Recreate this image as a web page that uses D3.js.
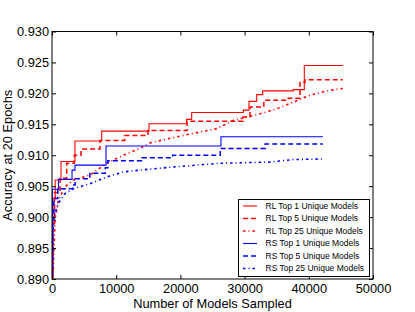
<!DOCTYPE html>
<html>
<head>
<meta charset="utf-8">
<script src="https://cdn.jsdelivr.net/npm/d3@7"></script>
<style>
  body { margin: 0; background: #fff; }
  text { font-family: "Liberation Sans", Arial, sans-serif; }
</style>
</head>
<body>
<div id="chart"></div>
<script>
// values: [models sampled, accuracy]
const rlTop1 = [[0, 0.8905], [150, 0.9030], [500, 0.9060], [1400, 0.9090], [3580, 0.9123], [7740, 0.9139],
  [15110, 0.9151], [20950, 0.9158], [21760, 0.9169], [29800, 0.9173], [30690, 0.9187], [31890, 0.9198],
  [32820, 0.9204], [37590, 0.9206], [39300, 0.9245], [45300, 0.9245]]
const rlTop5 = [[0, 0.8900], [150, 0.8990], [400, 0.9040], [1250, 0.9063], [2290, 0.9087], [3470, 0.9100],
  [4520, 0.9110], [7480, 0.9124], [11320, 0.9132], [14950, 0.9140], [21030, 0.9155], [29750, 0.9162],
  [30840, 0.9178], [33000, 0.9189], [36800, 0.9192], [38630, 0.9218], [39410, 0.9222], [45300, 0.9222]]
const rlTop25 = [[0, 0.8900], [200, 0.8915], [470, 0.8995], [980, 0.9027], [2020, 0.9049], [3320, 0.9060],
  [5920, 0.9068], [8520, 0.9087], [11100, 0.9100], [13710, 0.9111], [15260, 0.9120], [20400, 0.9132],
  [25650, 0.9143], [28190, 0.9156], [32400, 0.9167], [35000, 0.9175], [37590, 0.9186], [40190, 0.9197],
  [42790, 0.9204], [45300, 0.9208]]
const rsTop1 = [[0, 0.8905], [50, 0.9045], [1010, 0.9061], [3120, 0.9076], [3580, 0.9084], [8410, 0.9115],
  [26320, 0.9130], [42200, 0.9130]]
const rsTop5 = [[0, 0.8905], [100, 0.9000], [300, 0.9030], [900, 0.9046], [3200, 0.9052], [3600, 0.9062],
  [5900, 0.9071], [8300, 0.9080], [8700, 0.9091], [14000, 0.9096], [18800, 0.9100], [26200, 0.9111],
  [33200, 0.9118], [42200, 0.9118]]
const rsTop25 = [[0, 0.8902], [100, 0.8960], [250, 0.8990], [470, 0.9006], [980, 0.9022], [2020, 0.9038],
  [3320, 0.9046], [5920, 0.9054], [8520, 0.9065], [11100, 0.9073], [13710, 0.9076], [18850, 0.9081],
  [26170, 0.9087], [33960, 0.9089], [37540, 0.9093], [42200, 0.9094]]

const seriesNames = ["RL Top 1 Unique Models", "RL Top 5 Unique Models", "RL Top 25 Unique Models",
  "RS Top 1 Unique Models", "RS Top 5 Unique Models", "RS Top 25 Unique Models"]
const xTicks = [0, 10000, 20000, 30000, 40000, 50000]
const yTicks = [0.890, 0.895, 0.900, 0.905, 0.910, 0.915, 0.920, 0.925, 0.930]

width = 415
height = 312
margin = ({ top: 31.5, right: 42, bottom: 33, left: 52 })

x = d3.scaleLinear()
   .domain([0, 50000])
   .range([margin.left, width - margin.right])

y = d3.scaleLinear()
   .domain([0.890, 0.930])
   .range([height - margin.bottom, margin.top])

// line styles per series (matplotlib look)
var styles = [
   { data: rlTop1, color: "#ff0000", dash: null, w: 1.1, step: true },
   { data: rlTop5, color: "#ff0000", dash: "5,3", w: 1.5, step: true },
   { data: rlTop25, color: "#ff0000", dash: "2.5,3,1,3", w: 1.6, step: false },
   { data: rsTop1, color: "#0000ff", dash: null, w: 1.1, step: true },
   { data: rsTop5, color: "#0000ff", dash: "5,3", w: 1.5, step: true },
   { data: rsTop25, color: "#0000ff", dash: "2.5,3,1,3", w: 1.6, step: false }
]
styles.forEach((s, i) => s.name = seriesNames[i])

const svg = d3.create("svg")
   .attr("width", width)
   .attr("height", height)
   .attr("viewBox", [0, 0, width, height]);

svg.append("clipPath")
   .attr("id", "plot")
   .append("rect")
   .attr("x", x(0))
   .attr("y", y(0.930))
   .attr("width", x(50000) - x(0))
   .attr("height", y(0.890) - y(0.930))

svg.append("g")
   .attr("clip-path", "url(#plot)")
   .selectAll("path")
   .data(styles)
   .join("path")
   .attr("fill", "none")
   .attr("stroke", d => d.color)
   .attr("stroke-width", d => d.w)
   .attr("stroke-dasharray", d => d.dash)
   .attr("d", d => d3.line()
      .x(p => x(p[0]))
      .y(p => y(p[1]))
      .curve(d.step ? d3.curveStepAfter : d3.curveLinear)(d.data))

// axes, ticks pointing inwards on all four sides
const fmtY = d3.format(".3f")
svg.append("g")
   .attr("transform", `translate(0,${y(0.890)})`)
   .call(d3.axisBottom(x).tickValues(xTicks).tickFormat(d3.format("d")).tickSize(-4).tickPadding(5))
   .call(g => g.select(".domain").remove())
svg.append("g")
   .attr("transform", `translate(0,${y(0.930)})`)
   .call(d3.axisTop(x).tickValues(xTicks).tickFormat("").tickSize(-4))
   .call(g => g.select(".domain").remove())
svg.append("g")
   .attr("transform", `translate(${x(0)},0)`)
   .call(d3.axisLeft(y).tickValues(yTicks).tickFormat(fmtY).tickSize(-4).tickPadding(3))
   .call(g => g.select(".domain").remove())
svg.append("g")
   .attr("transform", `translate(${x(50000)},0)`)
   .call(d3.axisRight(y).tickValues(yTicks).tickFormat("").tickSize(-4))
   .call(g => g.select(".domain").remove())

svg.selectAll(".tick text")
   .attr("font-family", "'Liberation Sans', Arial, sans-serif")
   .attr("font-size", 12.8)
   .attr("fill", "#000")

svg.append("rect")
   .attr("x", x(0))
   .attr("y", y(0.930))
   .attr("width", x(50000) - x(0))
   .attr("height", y(0.890) - y(0.930))
   .attr("fill", "none")
   .attr("stroke", "#000")
   .attr("stroke-width", 1)

svg.append("text")
   .attr("x", (x(0) + x(50000)) / 2)
   .attr("y", 307.5)
   .attr("text-anchor", "middle")
   .attr("font-size", 12.8)
   .text("Number of Models Sampled")

svg.append("text")
   .attr("transform", `translate(12,${(y(0.890) + y(0.930)) / 2}) rotate(-90)`)
   .attr("text-anchor", "middle")
   .attr("font-size", 12.8)
   .text("Accuracy at 20 Epochs")

// legend
const legend = svg.append("g")
legend.append("rect")
   .attr("x", 238.5)
   .attr("y", 199.5)
   .attr("width", 131)
   .attr("height", 77)
   .attr("fill", "#fff")
   .attr("stroke", "#000")

const rows = legend.selectAll("g")
   .data(styles)
   .join("g")
   .attr("transform", (d, i) => `translate(0,${206 + i * 12.5})`)
rows.append("line")
   .attr("x1", 243)
   .attr("x2", 257)
   .attr("stroke", d => d.color)
   .attr("stroke-width", d => d.w)
   .attr("stroke-dasharray", d => d.dash)
rows.append("text")
   .attr("x", 265.5)
   .attr("dy", "0.35em")
   .attr("font-size", 8.5)
   .text(d => d.name)

d3.select("#chart").node().append(svg.node())
</script>
</body>
</html>
